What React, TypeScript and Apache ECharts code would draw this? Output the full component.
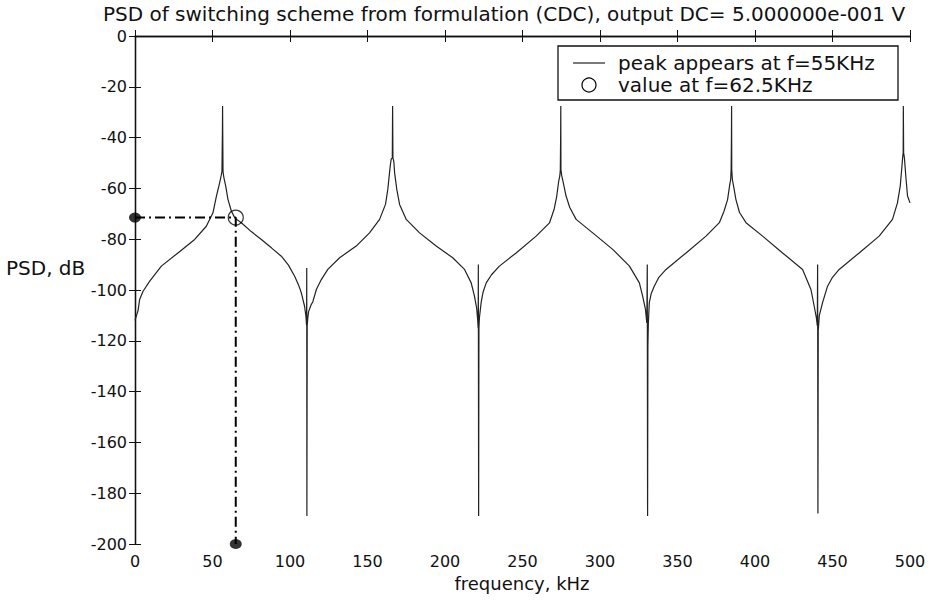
import React, { useEffect, useRef } from "react";
import * as echarts from "echarts";

const FONT = "'DejaVu Sans', 'Liberation Sans', sans-serif";

const titleText =
  "PSD of switching scheme from formulation (CDC), output DC= 5.000000e-001 V";
const xAxisName = "frequency, kHz";
const yAxisName = "PSD, dB";
const legendLabels = ["peak appears at f=55KHz", "value at f=62.5KHz"];

// frequency (kHz) / PSD (dB), read arch by arch
const freqA = [0, 0.5, 2, 3, 5.2, 9.5, 17, 27.7, 38.5, 46, 50.3, 52.5, 54.6, 55.6, 56.1, 56.4, 56.5, 56.6, 56.8, 57.4, 58.5, 60, 62.2, 64.5, 68.6, 75, 81.5, 88, 94.4, 99, 103, 105.5, 107.3, 109.4, 110.3, 110.7, 110.8, 110.9, 111.1];
const dbA = [-112, -111, -108, -103.7, -100.5, -96.5, -90.6, -85.4, -80.1, -74.9, -69.6, -63.1, -57.8, -55, -53.2, -37.5, -27.6, -37.5, -53.5, -56, -59, -64.4, -69, -71.7, -73.5, -77, -80.1, -83.4, -86.7, -90.2, -94.6, -98, -101.1, -106.4, -110.5, -114, -91.3, -189, -114];

const freqB = [111.5, 112, 113.5, 114.8, 117, 120.2, 124.4, 132, 142.7, 151.3, 157.8, 161.6, 163.1, 164.2, 164.8, 165.3, 166, 166.2, 166.4, 167, 167.5, 168.9, 170.7, 175, 183.6, 194.3, 205, 212.6, 216.9, 219, 220.4, 221.1, 221.4, 221.5, 221.7, 221.9];
const dbB = [-111, -108.5, -106, -104.5, -99.8, -95.9, -91.9, -87.3, -82.7, -77.5, -72.2, -66.3, -60.4, -53.9, -50.5, -48.5, -48, -27.6, -48, -49.5, -53.9, -60.4, -66.3, -72.2, -77.5, -82.7, -87.3, -91.9, -97.2, -102.4, -107, -112, -115, -90, -189, -115];

const freqC = [222.2, 223.3, 224.5, 226.6, 230, 235.1, 245.9, 258.8, 267.4, 270.5, 272.1, 273.4, 274.1, 274.4, 274.6, 274.7, 274.8, 275.3, 276.4, 278.1, 280.5, 284.6, 295.3, 308.2, 319, 325.4, 327.5, 329.3, 330.2, 330.5, 330.7, 330.9, 331.2];
const dbC = [-111, -105, -101, -97.2, -94, -90.6, -85.4, -78.8, -73.6, -68, -63, -57, -55, -52.6, -40, -27.6, -52.6, -55, -58, -63, -67.5, -72.2, -77.5, -84, -90.6, -97.2, -102.4, -107.5, -113, -90, -189, -122, -113];

const freqD = [331.8, 333, 335, 338, 342.6, 355.5, 368.4, 377, 380, 382.3, 383.6, 384.3, 384.6, 384.8, 384.9, 385, 385.4, 386.3, 387.7, 390, 394.2, 404.9, 417.8, 430.7, 436.1, 438.2, 439.6, 440.2, 440.4, 440.6, 440.8];
const dbD = [-105, -101.5, -98.5, -95, -91.9, -85.4, -78.8, -73.5, -69, -64.4, -59, -56.5, -52.6, -40, -27.6, -52.6, -56.5, -59.5, -64.4, -69.5, -73.5, -78.8, -85.4, -91.9, -99.8, -106.4, -111, -114, -90, -188, -116];

const freqE = [441.5, 443.6, 446.8, 450, 454.3, 467.2, 480.1, 488.7, 491.9, 493.7, 494.8, 495.3, 495.6, 495.7, 495.9, 496.4, 497.3, 498.4, 499.3, 500];
const dbE = [-110, -105, -98.5, -95, -91.9, -85.4, -78.8, -72.2, -65.7, -59.1, -51.3, -47.5, -46, -27.6, -46, -48, -55.2, -63, -64.5, -65.7];

// marked point
const markerFreq = 65;
const markerDb = -71.5;

const X_MIN = 0, X_MAX = 500, X_STEP = 50;
const Y_MIN = -200, Y_MAX = 0, Y_STEP = 20;

export default function App() {
  const ref = useRef<HTMLDivElement>(null);

  useEffect(() => {
    if (!ref.current) return;
    const chart = echarts.init(ref.current, undefined, { renderer: "svg" });

    const freq = [...freqA, ...freqB, ...freqC, ...freqD, ...freqE];
    const db = [...dbA, ...dbB, ...dbC, ...dbD, ...dbE];
    const psd = freq.map((f, i) => [f, db[i]]);

    const axisLine = { show: true, lineStyle: { color: "#111", width: 1.3 } };
    const tick = { show: true, inside: true, length: 6, lineStyle: { color: "#111", width: 1 } };
    const label = { fontFamily: FONT, fontSize: 16, color: "#111" };

    const grid = { left: 135, right: 22, top: 36, bottom: 59 };

    chart.setOption({
      animation: false,
      backgroundColor: "#fff",
      grid,
      xAxis: [
        {
          type: "value", min: X_MIN, max: X_MAX, interval: X_STEP, position: "bottom",
          axisLine, axisTick: tick, splitLine: { show: false },
          axisLabel: { ...label, margin: 9 },
        },
        {
          type: "value", min: X_MIN, max: X_MAX, interval: X_STEP, position: "top",
          axisLine, axisTick: tick, splitLine: { show: false },
          axisLabel: { show: false },
        },
      ],
      yAxis: [
        {
          type: "value", min: Y_MIN, max: Y_MAX, interval: Y_STEP, position: "left",
          axisLine, axisTick: tick, splitLine: { show: false },
          axisLabel: { ...label, margin: 8 },
        },
        {
          type: "value", min: Y_MIN, max: Y_MAX, interval: Y_STEP, position: "right",
          axisLine, axisTick: tick, splitLine: { show: false },
          axisLabel: { show: false },
        },
      ],
      series: [
        {
          type: "line", data: psd, showSymbol: false, symbol: "none",
          lineStyle: { color: "#222", width: 1.2 }, z: 3,
        },
        {
          type: "line",
          data: [[X_MIN, markerDb], [markerFreq, markerDb], [markerFreq, Y_MIN]],
          showSymbol: false, symbol: "none",
          lineStyle: { color: "#000", width: 2, type: [10, 4, 2, 4] }, z: 4,
        },
        {
          type: "scatter", data: [[X_MIN, markerDb], [markerFreq, Y_MIN]],
          symbol: "circle", symbolSize: [12, 10], clip: false,
          itemStyle: { color: "#000" }, z: 6,
        },
        {
          type: "scatter", data: [[markerFreq, markerDb]],
          symbol: "circle", symbolSize: 15, clip: false,
          itemStyle: { color: "rgba(0,0,0,0)", borderColor: "#000", borderWidth: 1.2 }, z: 5,
        },
      ],
      graphic: [
        {
          type: "text", x: 504, y: 14,
          style: { text: titleText, font: `20px ${FONT}`, fill: "#111", textAlign: "center", textVerticalAlign: "middle" },
        },
        {
          type: "text", x: 6, y: 268,
          style: { text: yAxisName, font: `20px ${FONT}`, fill: "#111", textAlign: "left", textVerticalAlign: "middle" },
        },
        {
          type: "text", x: 522, y: 583,
          style: { text: xAxisName, font: `18px ${FONT}`, fill: "#111", textAlign: "center", textVerticalAlign: "middle" },
        },
        {
          type: "rect", shape: { x: 558, y: 46, width: 340, height: 54 },
          style: { fill: "#fff", stroke: "#111", lineWidth: 1.3 }, z: 10,
        },
        {
          type: "line", shape: { x1: 573, y1: 63, x2: 605, y2: 63 },
          style: { stroke: "#222", lineWidth: 1.2 }, z: 11,
        },
        {
          type: "circle", shape: { cx: 589, cy: 85, r: 7 },
          style: { fill: "none", stroke: "#000", lineWidth: 1.2 }, z: 11,
        },
        {
          type: "text", x: 618, y: 63, z: 11,
          style: { text: legendLabels[0], font: `20px ${FONT}`, fill: "#111", textAlign: "left", textVerticalAlign: "middle" },
        },
        {
          type: "text", x: 618, y: 85, z: 11,
          style: { text: legendLabels[1], font: `20px ${FONT}`, fill: "#111", textAlign: "left", textVerticalAlign: "middle" },
        },
      ],
    });

    return () => chart.dispose();
  }, []);

  return (
    <div
      ref={ref}
      style={{ position: "fixed", left: 0, top: 0, width: 932, height: 603, background: "#fff" }}
    />
  );
}
